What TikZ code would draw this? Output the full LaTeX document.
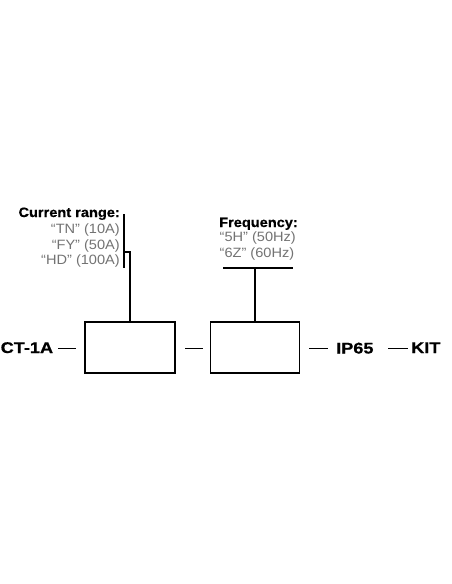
\documentclass[tikz,border=0pt]{standalone}
\usepackage{fontspec}
\setmainfont{Liberation Sans}
\newfontfamily\smallsans[FakeStretch=1.08]{Liberation Sans}
\newfontfamily\smallbold[FakeStretch=1.08,FakeBold=0.6]{Liberation Sans Bold}
\newfontfamily\bigbold[FakeStretch=1.17,FakeBold=0.8]{Liberation Sans Bold}
\definecolor{labelgray}{rgb}{0.45,0.45,0.45}
\tikzset{
  unitbox/.style={draw=black, line width=1.8pt, minimum width=90pt, minimum height=51pt, inner sep=0pt},
  wire/.style={draw=black, line width=1.8pt},
  headlbl/.style={inner sep=0pt, font=\smallbold\fontsize{13.5}{16}\selectfont, text=black},
  optlbl/.style={inner sep=0pt, font=\smallsans\fontsize{13.5}{16}\selectfont, text=labelgray},
  codelbl/.style={inner sep=0pt, font=\bigbold\fontsize{15.5}{18}\selectfont, text=black, anchor=base west},
}
\begin{document}
\begin{tikzpicture}[x=1pt,y=-1pt]
\useasboundingbox[fill=white] (0,0) rectangle (452,584);
% boxes
\node[unitbox] (box1) at (130,347.5) {};
\node[unitbox, minimum width=89pt] (box2) at (255,347.5) {};
% current range labels
\node[headlbl, anchor=base east] (cr) at (120,217) {Current range:};
\node[optlbl, anchor=base east] (tn) at (120,233.5) {“TN” (10A)};
\node[optlbl, anchor=base east] (fy) at (120,249) {“FY” (50A)};
\node[optlbl, anchor=base east] (hd) at (120,264.5) {“HD” (100A)};
% frequency labels
\node[headlbl, anchor=base west] (fq) at (219,227) {Frequency:};
\node[optlbl, anchor=base west] (fh) at (219.5,241.5) {“5H” (50Hz)};
\node[optlbl, anchor=base west] (sz) at (219.5,257) {“6Z” (60Hz)};
% code labels
\node[codelbl] (ct) at (0.5,353) {CT-1A};
\node[codelbl] (ip) at (336,353.5) {IP65};
\node[codelbl] (kit) at (411,353) {KIT};
% bracket for current range
\coordinate (brtop) at (124,214);
\coordinate (brbot) at (124,268);
\coordinate (brhook) at (124,252);
\coordinate (brturn) at (box1.north |- brhook);
\draw[wire] (brtop) -- (brbot);
\draw[wire] (brhook) -- (brturn) -- (box1.north);
% bar for frequency
\coordinate (fql) at (223,268);
\coordinate (fqr) at (293,268);
\coordinate (fqm) at (box2.north |- fql);
\draw[wire] (fql) -- (fqr);
\draw[wire] (fqm) -- (box2.north);
% dashes
\coordinate (d1a) at (58,348.5); \coordinate (d1b) at (76,348.5);
\coordinate (d2a) at (185,348.5); \coordinate (d2b) at (203,348.5);
\coordinate (d3a) at (309,348.5); \coordinate (d3b) at (328,348.5);
\coordinate (d4a) at (388,348.5); \coordinate (d4b) at (408,348.5);
\draw[wire] (d1a) -- (d1b);
\draw[wire] (d2a) -- (d2b);
\draw[wire] (d3a) -- (d3b);
\draw[wire] (d4a) -- (d4b);
\end{tikzpicture}
\end{document}
